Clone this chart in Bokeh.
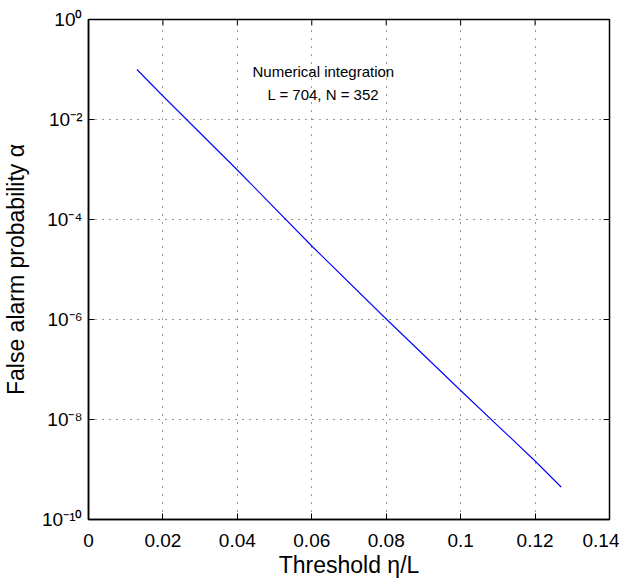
import math
from bokeh.plotting import figure
from bokeh.models import Range1d, FixedTicker, CustomJSTickFormatter, Label
from bokeh.embed import file_html
from bokeh.resources import INLINE

# data
threshold = [0.013, 0.02, 0.04, 0.06, 0.08, 0.10, 0.12, 0.127]
log10_alpha = [-1.0, -1.53, -3.01, -4.53, -5.99, -7.42, -8.83, -9.35]
alpha = [10 ** v for v in log10_alpha]

x_ticks = [0, 0.02, 0.04, 0.06, 0.08, 0.10, 0.12, 0.14]
y_ticks = [1e-10, 1e-8, 1e-6, 1e-4, 1e-2, 1e0]
annotation = ["Numerical integration", "L = 704, N = 352"]

FONT = "Liberation Sans"
X_MIN, X_MAX = 0, 0.14
Y_MIN, Y_MAX = 1e-10, 1

p = figure(frame_width=521, frame_height=500, y_axis_type="log",
           x_range=Range1d(X_MIN, X_MAX), y_range=Range1d(Y_MIN, Y_MAX),
           output_backend="svg", toolbar_location=None,
           min_border_left=87, min_border_top=19, min_border_right=10,
           min_border_bottom=5)
p.outline_line_color = "black"
p.outline_line_width = 1.5
p.background_fill_color = "white"

p.xgrid.ticker = FixedTicker(ticks=x_ticks)
p.ygrid.ticker = FixedTicker(ticks=y_ticks)
p.xgrid[0].grid_line_dash = "1 7"
p.ygrid[0].grid_line_dash = "1 6"
for g in (p.xgrid[0], p.ygrid[0]):
    g.grid_line_color = "#333333"
    g.grid_line_width = 1

p.line(threshold, alpha, line_color="#0000ff", line_width=1.1)

# inward tick marks on the top and right edges (clipped to the frame)
p.scatter(x_ticks, [Y_MAX] * len(x_ticks), marker="dash", size=12,
          angle=math.pi / 2, line_color="black", line_width=1)
p.scatter([X_MAX] * len(y_ticks), y_ticks, marker="dash", size=12,
          line_color="black", line_width=1)

xfmt = CustomJSTickFormatter(code="return String(Number(tick.toFixed(2)));")
yfmt = CustomJSTickFormatter(code="""
const sup = {'0':'\u2070','1':'\u00b9','2':'\u00b2','3':'\u00b3','4':'\u2074','5':'\u2075',
             '6':'\u2076','7':'\u2077','8':'\u2078','9':'\u2079','-':'\u207b'};
const e = String(Math.round(Math.log10(tick)));
return '10' + e.split('').map(c => sup[c]).join('');
""")

def style(ax):
    ax.axis_line_color = "black"
    ax.axis_line_width = 1.5
    ax.major_tick_in = 6
    ax.major_tick_out = 0
    ax.minor_tick_line_color = None
    ax.major_tick_line_color = "black"
    ax.major_label_text_font = FONT
    ax.major_label_text_font_size = "19px"
    ax.major_label_text_color = "black"
    ax.axis_label_text_font = FONT
    ax.axis_label_text_font_style = "normal"
    ax.axis_label_text_font_size = "23px"
    ax.axis_label_text_color = "black"

xb = p.xaxis[0]
xb.ticker = FixedTicker(ticks=x_ticks)
xb.formatter = xfmt
xb.axis_label = "Threshold \u03b7/L"
xb.axis_label_standoff = 2
xb.major_label_standoff = 14
style(xb)

yl = p.yaxis[0]
yl.ticker = FixedTicker(ticks=y_ticks)
yl.formatter = yfmt
yl.axis_label = "False alarm probability \u03b1"
yl.axis_label_standoff = 10
yl.major_label_standoff = 6
style(yl)

for txt, yy in zip(annotation, [10 ** -1.04, 10 ** -1.5]):
    p.add_layout(Label(x=0.0631, y=yy, text=txt, text_align="center",
                       text_baseline="middle", text_font=FONT,
                       text_font_size="15px", text_color="black"))

open("out.html", "w").write(file_html(p, INLINE))
